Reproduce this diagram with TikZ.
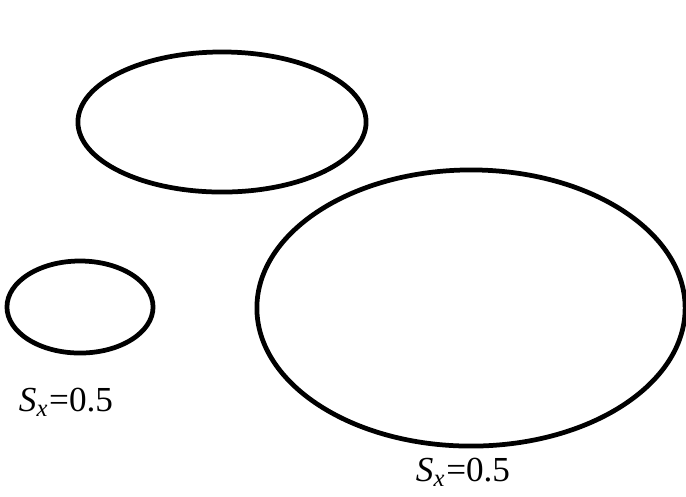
\documentclass[tikz,border=0pt]{standalone}
\usepackage{fontspec}
\setmainfont{Liberation Serif}
\usetikzlibrary{shapes.geometric}

\begin{document}
\begin{tikzpicture}[
  x=0.01cm, y=-0.01cm,
  blob/.style={
    ellipse,
    draw,
    line width=1.35pt,
    inner sep=0pt
  },
  tag/.style={font=\fontsize{10}{12}\selectfont, inner sep=0pt}
]
\useasboundingbox (0,0) rectangle (686,496);
\node[blob, minimum width=2.88cm, minimum height=1.40cm] (top) at (222,122) {};
\node[blob, minimum width=1.46cm, minimum height=0.92cm] (small) at (80,307) {};
\node[blob, minimum width=4.28cm, minimum height=2.76cm] (big) at (471,308) {};

\node[tag] (smalltag) at (66,402) {\textit{S}\textsubscript{\textit{x}}=0.5};
\node[tag] (bigtag) at (463,472) {\textit{S}\textsubscript{\textit{x}}=0.5};
\end{tikzpicture}
\end{document}
